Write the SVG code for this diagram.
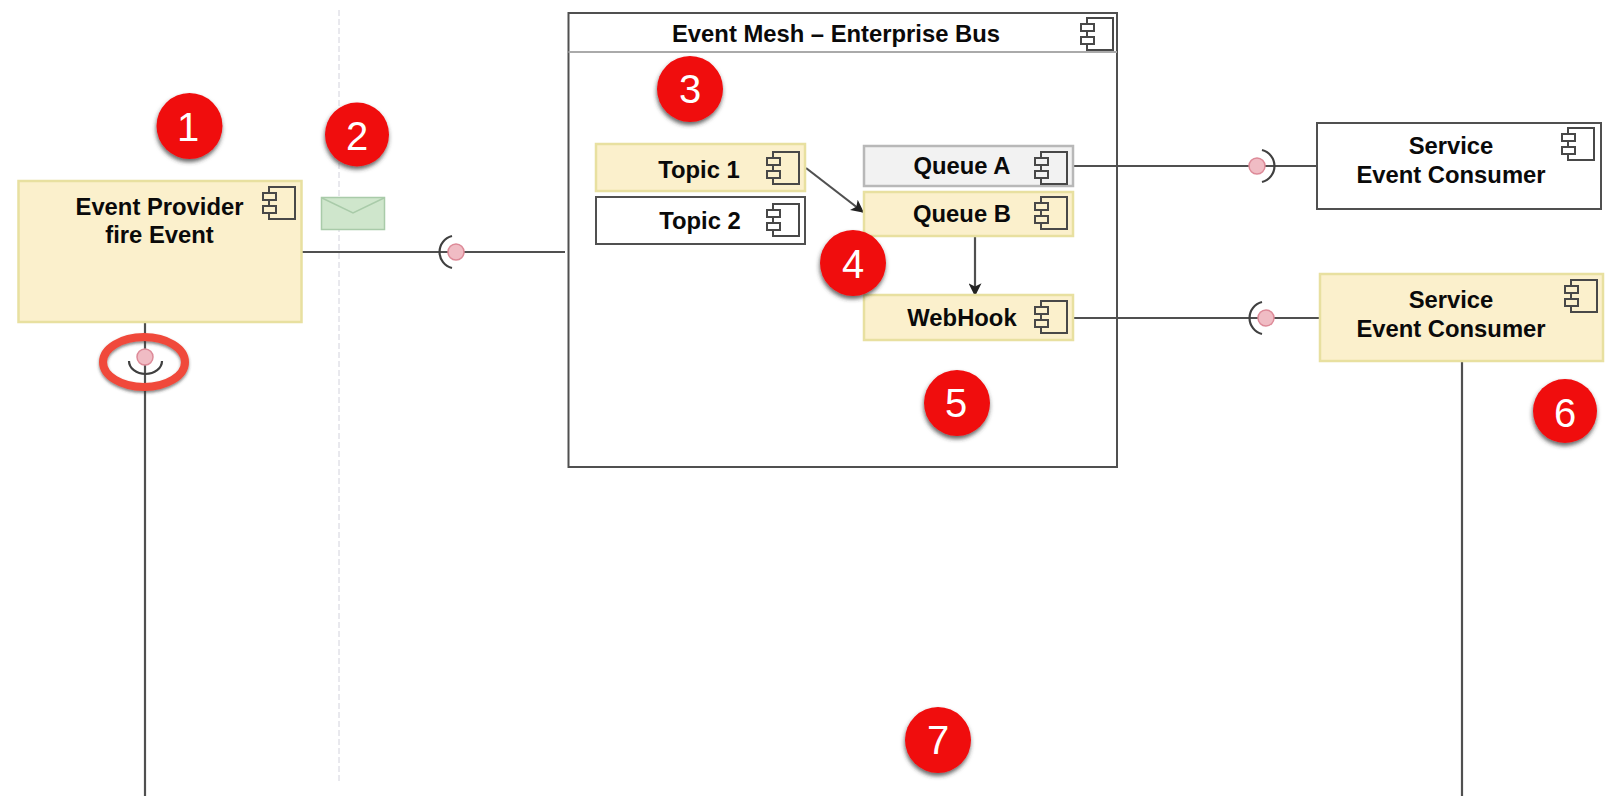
<svg xmlns="http://www.w3.org/2000/svg" width="1607" height="796" viewBox="0 0 1607 796">
<style>
text{font-family:"Liberation Sans",Arial,sans-serif}
.lbl{font-weight:bold;font-size:23.8px;fill:#0a0a0a;text-anchor:middle}
.num{font-size:40px;fill:#fff;text-anchor:middle}
.yel{fill:#fbf0cc;stroke:#e8e0a0;stroke-width:2.5}
.wht{fill:#fff;stroke:#505050;stroke-width:2}
.gry{fill:#f2f2f2;stroke:#b8b8b8;stroke-width:2.5}
.con{fill:none;stroke:#505050;stroke-width:2.2}
.ball{fill:#f0bcc4;stroke:#dd8a98;stroke-width:1.5}
.sock{fill:none;stroke:#404040;stroke-width:2.2}
.bad{fill:#f00a10;filter:url(#sh)}
.ic{fill:none;stroke:#484848;stroke-width:2}
</style>
<defs>
<filter id="sh" x="-30%" y="-30%" width="160%" height="170%"><feDropShadow dx="-0.5" dy="3" stdDeviation="2" flood-color="#333" flood-opacity="0.75"/></filter>
<filter id="sh2" x="-30%" y="-30%" width="160%" height="170%"><feDropShadow dx="0" dy="2" stdDeviation="1.5" flood-color="#333" flood-opacity="0.6"/></filter>
<symbol id="icon" viewBox="0 0 34 32" width="34" height="32" overflow="visible">
<path class="ic" d="M7 6V0H33V32H7V26M7 19V13"/>
<rect class="ic" x="1" y="6" width="13" height="7"/>
<rect class="ic" x="1" y="19" width="13" height="7"/>
</symbol>
<marker id="arr" viewBox="0 0 10 10" refX="9" refY="5" markerWidth="13" markerHeight="13" markerUnits="userSpaceOnUse" orient="auto"><path d="M0 0L10 5L0 10L2.5 5Z" fill="#222"/></marker>
</defs>
<rect width="1607" height="796" fill="#fff"/>
<line x1="339" y1="10" x2="339" y2="784" stroke="#d2d2dc" stroke-width="1" stroke-dasharray="6 3"/>
<g id="event-mesh">
<rect class="wht" x="568.500" y="13" width="548.500" height="454"/>
<path d="M568.500 52H1117" stroke="#aaa" stroke-width="2"/>
<text class="lbl" x="836" y="42">Event Mesh – Enterprise Bus</text>
<use href="#icon" x="1080" y="18"/>
</g>
<g id="connectors">
<path class="con" d="M301 252H565"/>
<path class="con" d="M145 322V796"/>
<path class="con" d="M1073 166H1317"/>
<path class="con" d="M1073 318H1320"/>
<path class="con" d="M1462 361V796"/>
<path class="con" d="M806 168L863 212" marker-end="url(#arr)"/>
<path class="con" d="M975 236V295" marker-end="url(#arr)"/>
</g>
<g id="event-provider">
<rect class="yel" x="18.500" y="181" width="283" height="141"/>
<text class="lbl" x="159.500" y="215">Event Provider</text>
<text class="lbl" x="159.500" y="243">fire Event</text>
<use href="#icon" x="262" y="187"/>
</g>
<g id="topic-1">
<rect class="yel" x="596" y="144" width="209" height="47"/>
<text class="lbl" x="699" y="178">Topic 1</text>
<use href="#icon" x="766" y="152"/>
</g>
<g id="topic-2">
<rect class="wht" x="596" y="197" width="209" height="47"/>
<text class="lbl" x="700" y="229">Topic 2</text>
<use href="#icon" x="766" y="204"/>
</g>
<g id="queue-a">
<rect class="gry" x="864" y="146" width="209" height="40"/>
<text class="lbl" x="962" y="174">Queue A</text>
<use href="#icon" x="1034" y="152"/>
</g>
<g id="queue-b">
<rect class="yel" x="864" y="192" width="209" height="44"/>
<text class="lbl" x="962" y="222">Queue B</text>
<use href="#icon" x="1034" y="197"/>
</g>
<g id="webhook">
<rect class="yel" x="864" y="295" width="209" height="45"/>
<text class="lbl" x="962" y="326">WebHook</text>
<use href="#icon" x="1034" y="301"/>
</g>
<g id="service-1">
<rect class="wht" x="1317" y="123" width="284" height="86"/>
<text class="lbl" x="1451" y="154">Service</text>
<text class="lbl" x="1451" y="183">Event Consumer</text>
<use href="#icon" x="1561" y="128"/>
</g>
<g id="service-2">
<rect class="yel" x="1320" y="274" width="283" height="87"/>
<text class="lbl" x="1451" y="308">Service</text>
<text class="lbl" x="1451" y="337">Event Consumer</text>
<use href="#icon" x="1564" y="280"/>
</g>
<g id="interfaces">
<path class="sock" d="M452 236A16.500 16.500 0 0 0 452 268"/>
<circle class="ball" cx="456" cy="252" r="8"/>
<path class="sock" d="M1262 150A16.500 16.500 0 0 1 1262 182"/>
<circle class="ball" cx="1257" cy="166" r="8"/>
<path class="sock" d="M1262 302A16.500 16.500 0 0 0 1262 334"/>
<circle class="ball" cx="1266" cy="318" r="8"/>
<path class="sock" d="M129 361A16.500 13 0 0 0 162 361"/>
<circle class="ball" cx="145" cy="357" r="8"/>
</g>
<g id="eye-highlight">
<ellipse cx="144" cy="362" rx="41" ry="25" fill="none" stroke="#f04a3a" stroke-width="8" filter="url(#sh2)"/>
</g>
<g id="message">
<rect x="321.500" y="197.500" width="63" height="32" fill="#cfe6cc" stroke="#a9cba9" stroke-width="1.500"/>
<path d="M322 198L353 213L384 198" fill="none" stroke="#a9cba9" stroke-width="1.500"/>
</g>
<g id="badge-1"><circle class="bad" cx="189.500" cy="126" r="33"/><text class="num" x="188" y="141">1</text></g>
<g id="badge-2"><circle class="bad" cx="357" cy="134.500" r="32"/><text class="num" x="357" y="150">2</text></g>
<g id="badge-3"><circle class="bad" cx="690" cy="89" r="33"/><text class="num" x="690" y="103">3</text></g>
<g id="badge-4"><circle class="bad" cx="853" cy="263" r="33"/><text class="num" x="853" y="278">4</text></g>
<g id="badge-5"><circle class="bad" cx="957" cy="403" r="33"/><text class="num" x="956" y="417">5</text></g>
<g id="badge-6"><circle class="bad" cx="1565" cy="411" r="32"/><text class="num" x="1565" y="427">6</text></g>
<g id="badge-7"><circle class="bad" cx="938" cy="740" r="33"/><text class="num" x="938" y="754">7</text></g>
</svg>
